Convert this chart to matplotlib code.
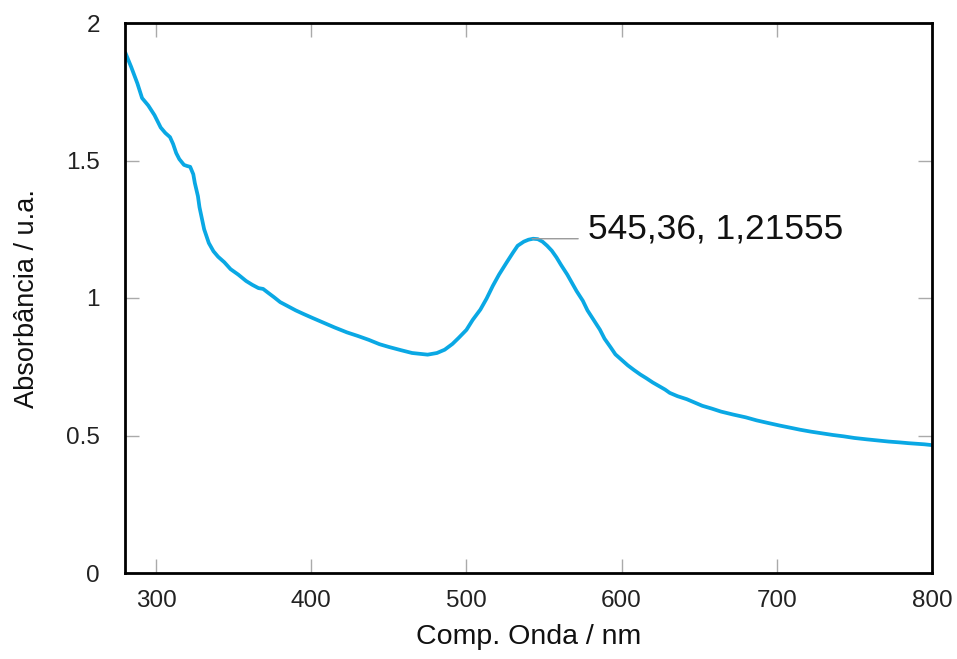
import matplotlib
matplotlib.use("Agg")
import matplotlib.pyplot as plt

wavelength = [280, 284, 288, 291, 295, 299, 303, 306, 309, 311, 313, 315, 318, 320, 322, 324, 325, 327, 328, 331,
              334, 337, 340, 344, 348, 353, 358, 362, 366, 369, 372, 376, 380, 385, 390, 395, 401, 408, 415, 423,
              430, 437, 444, 450, 458, 465, 470, 475, 481, 486, 491, 495, 500, 504, 509, 513, 517, 521, 526, 530,
              533, 537, 540, 543, 546, 549, 552, 555, 558, 561, 565, 568, 571, 575, 578, 582, 586, 589, 593, 596,
              600, 604, 608, 612, 616, 620, 624, 628, 631, 636, 642, 647, 652, 658, 664, 672, 680, 687, 694, 702,
              709, 715, 722, 729, 736, 743, 750, 758, 765, 772, 779, 785, 790, 795, 800]
absorb = [1.895, 1.84, 1.78, 1.727, 1.70, 1.665, 1.62, 1.60, 1.585, 1.56, 1.527, 1.505, 1.484, 1.48, 1.477, 1.45,
          1.418, 1.37, 1.33, 1.25, 1.20, 1.17, 1.15, 1.13, 1.105, 1.085, 1.062, 1.048, 1.036, 1.033, 1.02, 1.003,
          0.985, 0.97, 0.955, 0.942, 0.927, 0.91, 0.893, 0.875, 0.862, 0.848, 0.832, 0.822, 0.81, 0.80, 0.797,
          0.794, 0.80, 0.812, 0.833, 0.855, 0.884, 0.92, 0.958, 0.998, 1.044, 1.085, 1.13, 1.165, 1.19, 1.205,
          1.212, 1.2155, 1.214, 1.205, 1.19, 1.172, 1.148, 1.12, 1.085, 1.055, 1.025, 0.99, 0.955, 0.92, 0.885,
          0.852, 0.82, 0.795, 0.775, 0.755, 0.738, 0.722, 0.708, 0.693, 0.68, 0.667, 0.655, 0.643, 0.632, 0.62,
          0.608, 0.598, 0.587, 0.576, 0.566, 0.555, 0.546, 0.536, 0.528, 0.521, 0.514, 0.508, 0.502, 0.497, 0.491,
          0.486, 0.482, 0.478, 0.475, 0.472, 0.47, 0.468, 0.465]

peak_x = 545.36
peak_y = 1.21555
peak_label = "545,36, 1,21555"

xticks = [300, 400, 500, 600, 700, 800]
yticks = [0, 0.5, 1, 1.5, 2]
ytick_labels = ["0", "0.5", "1", "1.5", "2"]

plt.rcParams['font.family'] = ['Liberation Sans', 'DejaVu Sans']

fig = plt.figure(figsize=(9.57, 6.59), dpi=100)
ax = fig.add_axes([125/957, 1 - 573/659, (932-125)/957, (573-23)/659])

ax.plot(wavelength, absorb, color='#0aa8e4', lw=2.7, solid_joinstyle='round', solid_capstyle='butt')

ax.set_xlim(280, 800)
ax.set_ylim(0, 2)
ax.set_xticks(xticks)
ax.set_yticks(yticks)
ax.set_yticklabels(ytick_labels)

for s in ax.spines.values():
    s.set_linewidth(2)
    s.set_color('black')

ax.tick_params(direction='in', length=10, width=1, color='#aaaaaa', top=True, right=True,
               labelsize=17.5, labelcolor='#222222')
ax.tick_params(axis='y', pad=18)
ax.tick_params(axis='x', pad=12)

ax.set_xlabel("Comp. Onda / nm", fontsize=20.5, labelpad=9, color='#111111')
ax.set_ylabel("Absorbância / u.a.", fontsize=19.5, labelpad=19, color='#111111')

ax.annotate("", xy=(peak_x - 3, peak_y), xytext=(572, peak_y),
            arrowprops=dict(arrowstyle='-', color='#999999', lw=1, shrinkA=0, shrinkB=0))
ax.text(578.3, peak_y, peak_label, fontsize=25.5, va='baseline', ha='left', color='#111111')

fig.savefig("out.png", dpi=100)
